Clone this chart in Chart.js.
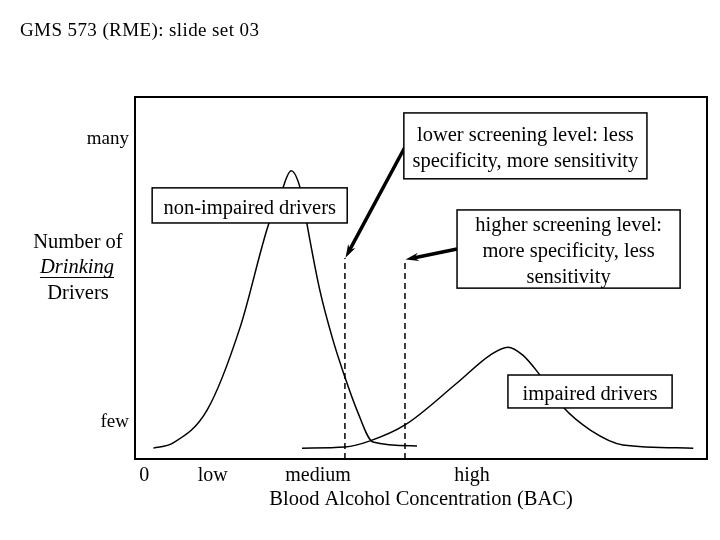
<!DOCTYPE html>
<html>
<head>
<meta charset="utf-8">
<script src="https://cdn.jsdelivr.net/npm/chart.js@4.4.0/dist/chart.umd.min.js"></script>
<style>
  html, body { margin: 0; background: #fff; }
  canvas { display: block; }
</style>
</head>
<body>
<canvas id="bacChart" width="720" height="540"></canvas>
<script>
// curve values (x: BAC, 0-100 scale; y: number of drivers, 0-100)
const nonImpairedX = [3.2, 6.6, 12.6, 18.4, 23.3, 25.4, 27.3, 29.2, 30.1, 32.3, 34.6, 36.7, 38.8, 41.6, 49.3];
const nonImpairedY = [3.0, 4.4, 13.5, 36.5, 64.6, 72.9, 79.6, 72.9, 64.6, 46.7, 32.9, 22.6, 13.5, 4.7, 3.6];
const impairedX = [29.2, 36.7, 41.1, 47.2, 56.3, 62.1, 65.2, 67.8, 70.5, 74.8, 79.6, 85.3, 97.6];
const impairedY = [3.0, 3.3, 5.0, 9.4, 21.0, 28.7, 30.9, 28.7, 23.8, 14.4, 8.0, 3.9, 3.0];
// screening cut-offs and the height their dashed markers reach
const screeningX = [36.7, 47.2];
const screeningTop = [55.5, 55.0];
// axis tick labels
const xTickValues = [1.6, 13.6, 32.0, 58.9];
const xTickLabels = ['0', 'low', 'medium', 'high'];
const yTickValues = [10.2, 88.4];
const yTickLabels = ['few', 'many'];

const serif = "'Liberation Serif', 'Times New Roman', serif";

function zip(xs, ys) {
    return xs.map((x, i) => ({ x: x, y: ys[i] }));
}

// callout boxes and arrows, placed in chart units
const callouts = [
    { x0: 47.0, x1: 89.5, y0: 95.6, y1: 77.4, lines: ['lower screening level: less', 'specificity, more sensitivity'] },
    { x0: 56.3, x1: 95.3, y0: 68.8, y1: 47.2, lines: ['higher screening level:', 'more specificity, less', 'sensitivity'] },
    { x0: 3.0, x1: 37.1, y0: 74.9, y1: 65.2, lines: ['non-impaired drivers'] },
    { x0: 65.2, x1: 93.9, y0: 23.2, y1: 14.1, lines: ['impaired drivers'] }
];
const arrows = [
    { from: [47.2, 86.2], to: [36.8, 55.6] },
    { from: [56.3, 58.0], to: [47.3, 55.1] }
];

const slidePlugin = {
    id: 'slideDecor',
    afterDatasetsDraw(chart) {
        const ctx = chart.ctx;
        const xs = chart.scales.x, ys = chart.scales.y;
        ctx.save();
        // arrows
        arrows.forEach(a => {
            const x1 = xs.getPixelForValue(a.from[0]), y1 = ys.getPixelForValue(a.from[1]);
            const x2 = xs.getPixelForValue(a.to[0]), y2 = ys.getPixelForValue(a.to[1]);
            const ang = Math.atan2(y2 - y1, x2 - x1);
            ctx.strokeStyle = '#000';
            ctx.lineWidth = 3.5;
            ctx.beginPath();
            ctx.moveTo(x1, y1);
            ctx.lineTo(x2 - 8 * Math.cos(ang), y2 - 8 * Math.sin(ang));
            ctx.stroke();
            ctx.fillStyle = '#000';
            ctx.beginPath();
            ctx.moveTo(x2, y2);
            ctx.lineTo(x2 - 14 * Math.cos(ang - 0.3), y2 - 14 * Math.sin(ang - 0.3));
            ctx.lineTo(x2 - 9 * Math.cos(ang), y2 - 9 * Math.sin(ang));
            ctx.lineTo(x2 - 14 * Math.cos(ang + 0.3), y2 - 14 * Math.sin(ang + 0.3));
            ctx.closePath();
            ctx.fill();
        });
        // boxes
        ctx.font = '20.5px ' + serif;
        ctx.textAlign = 'center';
        ctx.textBaseline = 'middle';
        callouts.forEach(b => {
            const l = xs.getPixelForValue(b.x0), r = xs.getPixelForValue(b.x1);
            const t = ys.getPixelForValue(b.y0), btm = ys.getPixelForValue(b.y1);
            ctx.fillStyle = '#fff';
            ctx.fillRect(l, t, r - l, btm - t);
            ctx.strokeStyle = '#000';
            ctx.lineWidth = 1.5;
            ctx.strokeRect(l, t, r - l, btm - t);
            ctx.fillStyle = '#000';
            const cx = (l + r) / 2, cy = (t + btm) / 2 + 3;
            const n = b.lines.length;
            b.lines.forEach((txt, i) => {
                ctx.fillText(txt, cx, cy + (i - (n - 1) / 2) * 26);
            });
        });
        ctx.restore();
    },
    afterDraw(chart) {
        const ctx = chart.ctx;
        const a = chart.chartArea;
        ctx.save();
        // frame
        ctx.strokeStyle = '#000';
        ctx.lineWidth = 2;
        ctx.strokeRect(a.left, a.top, a.right - a.left, a.bottom - a.top);
        // slide header
        ctx.fillStyle = '#000';
        ctx.font = '19px ' + serif;
        ctx.letterSpacing = '0.4px';
        ctx.textAlign = 'left';
        ctx.textBaseline = 'alphabetic';
        ctx.fillText('GMS 573 (RME): slide set 03', 20, 36);
        ctx.letterSpacing = '0px';
        // y axis title
        ctx.font = '20.5px ' + serif;
        ctx.textAlign = 'center';
        ctx.textBaseline = 'middle';
        ctx.fillText('Number of', 78, 243);
        ctx.fillText('Drivers', 78, 294);
        ctx.font = 'italic 20.5px ' + serif;
        ctx.fillText('Drinking', 77, 268);
        const w = ctx.measureText('Drinking').width;
        ctx.lineWidth = 1;
        ctx.beginPath();
        ctx.moveTo(77 - w / 2, 277.5);
        ctx.lineTo(77 + w / 2, 277.5);
        ctx.stroke();
        ctx.restore();
    }
};

const lineStyle = {
    borderColor: '#000',
    borderWidth: 1.5,
    pointRadius: 0,
    fill: false,
    cubicInterpolationMode: 'monotone'
};

new Chart(document.getElementById('bacChart'), {
    type: 'line',
    data: {
        datasets: [
            Object.assign({ label: 'non-impaired drivers', data: zip(nonImpairedX, nonImpairedY) }, lineStyle),
            Object.assign({ label: 'impaired drivers', data: zip(impairedX, impairedY) }, lineStyle),
            {
                label: 'lower screening level',
                data: [{ x: screeningX[0], y: 0 }, { x: screeningX[0], y: screeningTop[0] }],
                borderColor: '#000', borderWidth: 1.5, borderDash: [6, 4], pointRadius: 0, tension: 0
            },
            {
                label: 'higher screening level',
                data: [{ x: screeningX[1], y: 0 }, { x: screeningX[1], y: screeningTop[1] }],
                borderColor: '#000', borderWidth: 1.5, borderDash: [6, 4], pointRadius: 0, tension: 0
            }
        ]
    },
    options: {
        responsive: false,
        animation: false,
        layout: { padding: { top: 97, right: 13, left: 0, bottom: 0 } },
        plugins: { legend: { display: false }, tooltip: { enabled: false } },
        scales: {
            x: {
                type: 'linear', min: 0, max: 100,
                grid: { display: false, drawTicks: false },
                border: { display: false },
                afterBuildTicks: s => { s.ticks = xTickValues.map(v => ({ value: v })); },
                afterFit: s => { s.height = 81; },
                ticks: {
                    autoSkip: false, maxRotation: 0, color: '#000', padding: 5,
                    font: { family: serif, size: 20 },
                    callback: (v, i) => xTickLabels[i]
                },
                title: {
                    display: true, text: 'Blood Alcohol Concentration (BAC)', color: '#000',
                    font: { family: serif, size: 20.5 }, padding: { top: 0, bottom: 28 }
                }
            },
            y: {
                type: 'linear', min: 0, max: 100,
                grid: { display: false, drawTicks: false },
                border: { display: false },
                afterBuildTicks: s => { s.ticks = yTickValues.map(v => ({ value: v })); },
                afterFit: s => { s.width = 135; },
                ticks: {
                    autoSkip: false, color: '#000', padding: 6,
                    font: { family: serif, size: 19 },
                    callback: (v, i) => yTickLabels[i]
                }
            }
        }
    },
    plugins: [slidePlugin]
});
</script>
</body>
</html>
